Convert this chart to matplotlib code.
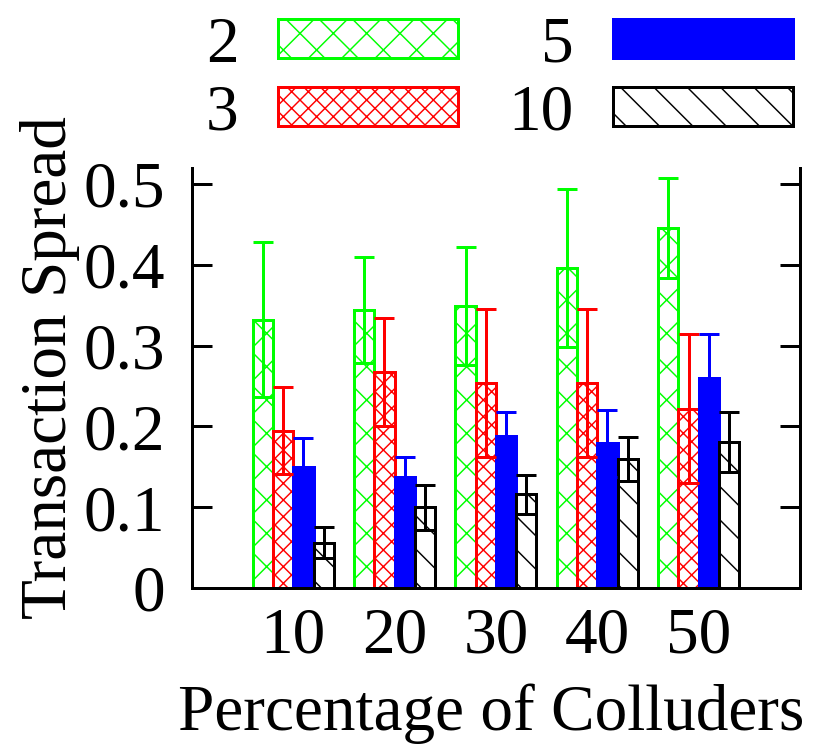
import numpy as np
import matplotlib
matplotlib.use('Agg')
import matplotlib.pyplot as plt
from matplotlib.patches import Patch

# Данные
groups = ['10', '20', '30', '40', '50']
series = ['2', '3', '5', '10']

spread_2 = [0.332, 0.344, 0.349, 0.396, 0.446]
err_2 = [0.096, 0.066, 0.073, 0.098, 0.062]
spread_3 = [0.195, 0.267, 0.254, 0.254, 0.222]
err_3 = [0.054, 0.067, 0.092, 0.092, 0.092]
spread_5 = [0.150, 0.137, 0.188, 0.179, 0.260]
err_5 = [0.036, 0.025, 0.030, 0.042, 0.055]
spread_10 = [0.056, 0.100, 0.116, 0.160, 0.181]
err_10 = [0.019, 0.028, 0.024, 0.027, 0.037]

yticks = [0, 0.1, 0.2, 0.3, 0.4, 0.5]
ytick_labels = ['0', '0.1', '0.2', '0.3', '0.4', '0.5']

plt.rcParams['font.family'] = ['Liberation Serif', 'DejaVu Serif']
plt.rcParams['hatch.linewidth'] = 1.05

# при dpi=100 шаг штриховки ~33 px, как в оригинале
DPI = 100
FS = 47
LW = 2.16
fig = plt.figure(figsize=(820 / DPI, 745 / DPI), dpi=DPI)
ax = fig.add_axes([0.234, 0.2107, 0.7416, 0.5638])

values = [spread_2, spread_3, spread_5, spread_10]
errors = [err_2, err_3, err_5, err_10]
colors = ['#00ff00', '#ff0000', '#0000ff', '#000000']
faces = ['white', 'white', '#0000ff', 'white']
hatches = ['x', 'xx', None, '\\']
offsets = [-0.3, -0.1, 0.1, 0.3]
width = 0.2

x = np.arange(1, len(groups) + 1)
handles = []
for vals, errs, c, fc, h, off, name in zip(values, errors, colors, faces, hatches, offsets, series):
    ax.bar(x + off, vals, width=width, color=fc, edgecolor=c, hatch=h,
           linewidth=LW, zorder=2)
    ax.errorbar(x + off, vals, yerr=errs, fmt='none', ecolor=c,
                elinewidth=LW, capsize=7.2, capthick=LW, zorder=3)
    handles.append(Patch(facecolor=fc, edgecolor=c, hatch=h, linewidth=LW, label=name))

ax.set_xlim(0, 6)
ax.set_ylim(0, 0.52)
ax.set_xticks(x)
ax.set_xticklabels(groups)
ax.set_yticks(yticks)
ax.set_yticklabels(ytick_labels)

ax.tick_params(axis='y', direction='in', length=14.4, width=LW, labelsize=FS,
               right=True, pad=19.5)
ax.tick_params(axis='x', length=0, labelsize=FS, pad=13.5)

ax.spines['top'].set_visible(False)
for s in ['left', 'right', 'bottom']:
    ax.spines[s].set_linewidth(LW)

ax.set_xlabel('Percentage of Colluders', fontsize=FS)
ax.xaxis.set_label_coords(0.493, -0.227)
ax.set_ylabel('Transaction Spread', fontsize=FS)
ax.yaxis.set_label_coords(-0.184, 0.526)

fig.legend(handles=handles, ncol=2, markerfirst=False, frameon=False,
           loc='upper right', bbox_to_anchor=(0.967, 0.978),
           fontsize=FS, handlelength=2.76, handleheight=0.54,
           handletextpad=0.6, columnspacing=0.77, labelspacing=0.13,
           borderpad=0, borderaxespad=0)

fig.savefig('out.png', dpi=DPI)
